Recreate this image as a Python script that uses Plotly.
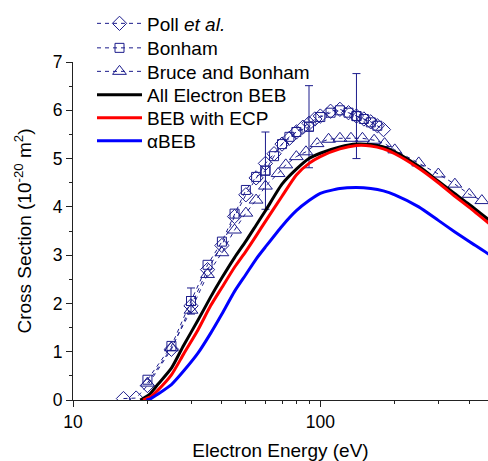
import plotly.graph_objects as go

# ---------------- data ----------------
# Theory curves (energy in eV, cross section in 1e-20 m^2)
E_theory = [18.7, 19.2, 19.8, 20.5, 22, 25, 28, 32, 36, 40, 45, 50, 55, 60, 70, 80, 90, 100,
            120, 140, 160, 180, 200, 250, 300, 350, 400, 480]
beb_all = [0.0, 0.03, 0.07, 0.13, 0.32, 0.66, 1.13, 1.65, 2.13, 2.53, 2.95, 3.29, 3.62, 3.92,
           4.47, 4.78, 5.0, 5.11, 5.24, 5.30, 5.29, 5.24, 5.14, 4.84, 4.53, 4.27, 4.05, 3.73]
beb_ecp = [None, 0.0, 0.03, 0.06, 0.2, 0.52, 0.95, 1.45, 1.95, 2.33, 2.75, 3.08, 3.4, 3.7,
           4.22, 4.66, 4.9, 5.04, 5.2, 5.27, 5.26, 5.2, 5.1, 4.8, 4.5, 4.22, 3.99, 3.66]
alpha_beb = [None, None, 0.0, 0.02, 0.12, 0.32, 0.6, 0.97, 1.38, 1.78, 2.25, 2.6, 2.92, 3.17,
             3.6, 3.92, 4.13, 4.28, 4.38, 4.40, 4.38, 4.33, 4.25, 4.0, 3.72, 3.48, 3.28, 3.02]

# Poll et al.
E_poll = [16, 18, 20, 25, 30, 35, 40, 45, 50, 55, 60, 65, 70, 75, 80, 85, 90, 95, 100,
          110, 120, 130, 140, 150, 160, 170, 180]
poll = [0.03, 0.04, 0.3, 1.05, 1.95, 2.7, 3.2, 3.8, 4.25, 4.6, 4.9, 5.1, 5.3, 5.42, 5.55,
        5.65, 5.73, 5.82, 5.88, 5.98, 6.02, 5.95, 5.88, 5.82, 5.76, 5.68, 5.6]

# Bonham
E_bonham = [20, 25, 30, 35, 40, 45, 50, 55, 60, 65, 70, 75, 80, 90, 100, 110, 120, 130,
            140, 150, 160, 170]
bonham = [0.42, 1.12, 2.05, 2.8, 3.28, 3.86, 4.35, 4.62, 4.75, 5.05, 5.3, 5.45, 5.55, 5.66,
          5.86, 5.95, 6.0, 5.95, 5.88, 5.82, 5.75, 5.68]
bonham_err = [None, None, 0.27, None, None, None, None, None, 0.8, None, None, None, None,
              0.85, None, None, None, None, 0.88, None, None, None]

# Bruce and Bonham
E_bruce = [20, 25, 30, 35, 40, 45, 50, 55, 60, 67.5, 72.5, 80, 87.5, 97, 108, 120, 133, 148,
           165, 182, 200, 250, 300, 350, 400, 450]
bruce = [0.35, 1.08, 1.86, 2.6, 3.05, 3.52, 3.87, 4.14, 4.43, 4.69, 4.87, 5.04, 5.14, 5.31,
         5.40, 5.42, 5.42, 5.42, 5.38, 5.31, 5.18, 4.91, 4.68, 4.47, 4.26, 4.13]

x_ticks = [10, 100]
x_minor = [20, 30, 40, 50, 60, 70, 80, 90, 200, 300, 400]

# ---------------- style ----------------
NAVY = "#1c1c8c"
FONT = "Liberation Sans, Arial, sans-serif"
W, H = 488, 461
ML, MR, MT, MB = 73, 0, 62, 61
PH = H - MT - MB

fig = go.Figure()

dash_line = dict(color=NAVY, width=1, dash="4px,4px")

fig.add_trace(go.Scatter(x=E_poll, y=poll, mode="lines+markers", name="Poll <i>et al.</i>",
                         line=dash_line,
                         marker=dict(symbol="diamond-open", size=11, color=NAVY,
                                     line=dict(width=1, color=NAVY)),
                         legend="legend"))
fig.add_trace(go.Scatter(x=E_bonham, y=bonham, mode="lines+markers", name="Bonham",
                         line=dash_line,
                         marker=dict(symbol="square-open", size=9, color=NAVY,
                                     line=dict(width=1, color=NAVY)),
                         legend="legend2"))
# error bars on selected Bonham points
ex = [e for e, r in zip(E_bonham, bonham_err) if r is not None]
ey = [v for v, r in zip(bonham, bonham_err) if r is not None]
er = [r for r in bonham_err if r is not None]
fig.add_trace(go.Scatter(x=ex, y=ey, mode="markers", showlegend=False,
                         marker=dict(symbol="square-open", size=9, color=NAVY,
                                     line=dict(width=1, color=NAVY)),
                         error_y=dict(type="data", array=er, visible=True, color=NAVY,
                                      thickness=1, width=4)))
fig.add_trace(go.Scatter(x=E_bruce, y=bruce, mode="lines+markers", name="Bruce and Bonham",
                         line=dash_line,
                         marker=dict(symbol="triangle-up-open", size=12, color=NAVY,
                                     line=dict(width=1, color=NAVY)),
                         legend="legend3"))
fig.add_trace(go.Scatter(x=E_theory, y=beb_all, mode="lines", name="All Electron BEB",
                         line=dict(color="#000000", width=3, shape="spline", smoothing=0.6),
                         legend="legend4"))
fig.add_trace(go.Scatter(x=E_theory, y=beb_ecp, mode="lines", name="BEB with ECP",
                         line=dict(color="#ff0000", width=3, shape="spline", smoothing=0.6),
                         legend="legend5"))
fig.add_trace(go.Scatter(x=E_theory, y=alpha_beb, mode="lines", name="αBEB",
                         line=dict(color="#0000ff", width=3, shape="spline", smoothing=0.6),
                         legend="legend6"))

# legends (one per item so the item spacing matches)
centers = [23.5, 48, 71.5, 95, 118, 141]
legend_x = (92 - ML) / (W - ML - MR)
lay_leg = {}
for i, cy in enumerate(centers):
    key = "legend" if i == 0 else f"legend{i+1}"
    lay_leg[key] = dict(x=legend_x, y=(H - MB - cy) / PH, xanchor="left", yanchor="middle",
                        bgcolor="rgba(0,0,0,0)", borderwidth=0, itemwidth=45,
                        font=dict(family=FONT, size=19, color="#000"))

axis_common = dict(showline=True, linecolor="#222", linewidth=1, ticks="outside",
                   ticklen=6, tickwidth=1, tickcolor="#222", showgrid=False, zeroline=False,
                   tickfont=dict(family=FONT, size=17.5, color="#000"), mirror=False)

fig.update_layout(
    width=W, height=H,
    margin=dict(l=ML, r=MR, t=MT, b=MB, pad=0),
    plot_bgcolor="white", paper_bgcolor="white",
    font=dict(family=FONT, color="#000"),
    xaxis=dict(type="log", range=[1, 2.678], tickvals=x_ticks, ticktext=[str(t) for t in x_ticks],
               minor=dict(ticks="outside", tickvals=x_minor, ticklen=3, tickcolor="#222"),
               title=dict(text="Electron Energy (eV)", font=dict(family=FONT, size=19),
                          standoff=16),
               **axis_common),
    yaxis=dict(range=[0, 7], dtick=1, tick0=0,
               minor=dict(ticks="outside", dtick=0.5, ticklen=3, tickcolor="#222"),
               title=dict(text="Cross Section (10<sup>-20</sup> m<sup>2</sup>)",
                          font=dict(family=FONT, size=19), standoff=16),
               **axis_common),
    showlegend=True,
    **lay_leg,
)

fig.write_html("out.html", config={"displayModeBar": False},
               post_script="document.body.style.margin='0';document.body.style.padding='0';")
